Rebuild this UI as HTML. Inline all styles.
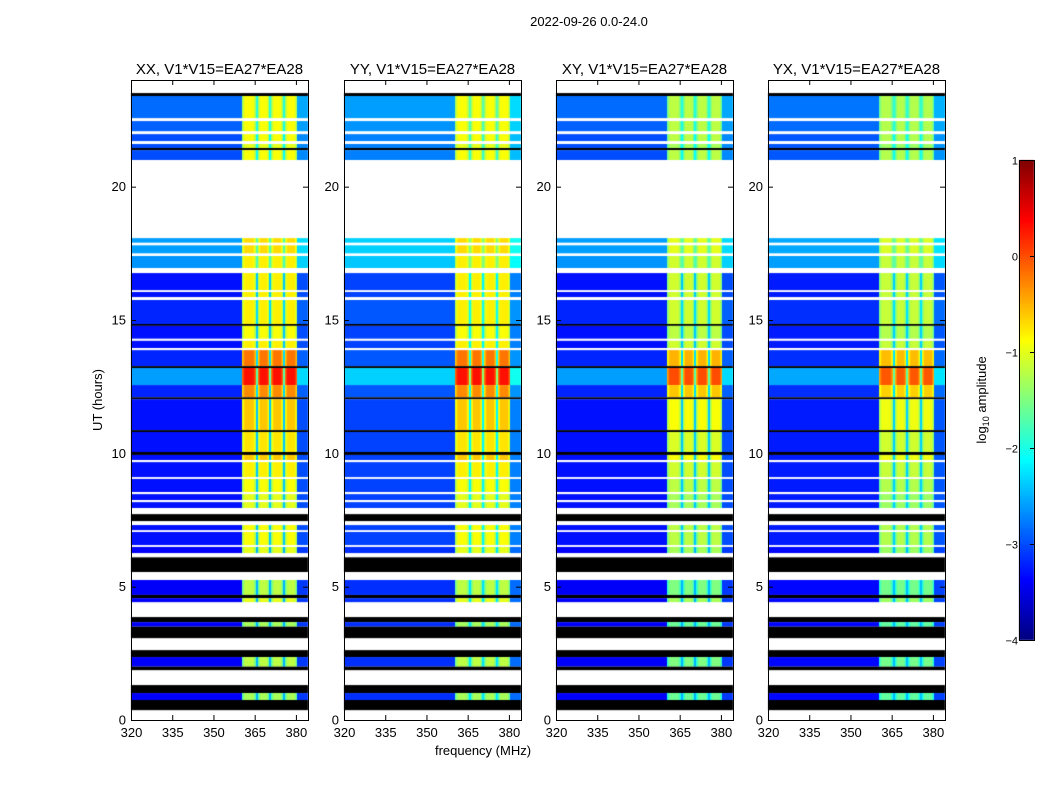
<!DOCTYPE html>
<html><head><meta charset="utf-8"><style>
body{margin:0;background:#fff;font-family:"Liberation Sans",sans-serif;}
#wrap{position:relative;width:1050px;height:800px;overflow:hidden;background:#fff;}
canvas{position:absolute;}
.t{position:absolute;white-space:nowrap;color:#000;}
</style></head><body>
<div id="wrap">
<div class="t" style="left:489px;top:14px;width:200px;text-align:center;font-size:13px;">2022-09-26 0.0-24.0</div>
<canvas id="c0" width="1050" height="800" style="left:0;top:0"></canvas>
<svg id="ov" width="1050" height="800" style="position:absolute;left:0;top:0"></svg>
</div>
<script>
// time segments: [startHour, endHour, kind, background log-amp, band log-amp]
const timeSegs = [
[23.51,24,'w'],[23.4,23.51,'k'],[22.57,23.4,'d',-2.85,-0.9],[22.46,22.57,'w'],
[22.08,22.46,'d',-2.9,-0.9],[21.97,22.08,'w'],[21.71,21.97,'d',-3.0,-0.9],[21.6,21.71,'w'],
[21.45,21.6,'d',-3.0,-1.0],[21.37,21.45,'k'],[21.0,21.37,'d',-3.0,-0.9],[18.07,21.0,'w'],
[17.9,18.07,'d',-2.6,-0.7],[17.8,17.9,'w'],[17.5,17.8,'d',-2.6,-0.7],[17.4,17.5,'w'],
[16.95,17.4,'d',-2.65,-0.8],[16.76,16.95,'w'],[16.12,16.76,'d',-3.3,-0.8],[16.05,16.12,'w'],
[15.86,16.05,'d',-3.3,-0.8],[15.75,15.86,'w'],[14.85,15.75,'d',-3.2,-0.8],[14.78,14.85,'k'],
[14.3,14.78,'d',-3.3,-0.9],[14.22,14.3,'w'],[13.95,14.22,'d',-3.3,-0.8],[13.87,13.95,'w'],
[13.27,13.87,'d',-3.2,-0.2],[13.2,13.27,'k'],[12.56,13.2,'d',-2.6,0.3],[12.1,12.56,'d',-3.2,-0.3],
[12.03,12.1,'k'],[10.87,12.03,'d',-3.3,-0.6],[10.8,10.87,'k'],[10.05,10.8,'d',-3.3,-0.75],
[9.94,10.05,'k'],[9.75,9.94,'d',-3.3,-0.6],[9.67,9.75,'w'],[9.11,9.67,'d',-3.3,-0.8],
[9.04,9.11,'w'],[8.55,9.04,'d',-3.3,-0.9],[8.47,8.55,'w'],[8.25,8.47,'d',-3.3,-1.0],
[8.17,8.25,'w'],[7.95,8.17,'d',-3.3,-1.0],[7.72,7.95,'w'],[7.46,7.72,'k'],[7.31,7.46,'w'],
[7.12,7.31,'d',-3.3,-0.9],[7.05,7.12,'w'],[6.56,7.05,'d',-3.3,-0.9],[6.49,6.56,'w'],
[6.26,6.49,'d',-3.4,-1.0],[6.1,6.26,'w'],[5.55,6.1,'k'],[5.25,5.55,'w'],
[4.69,5.25,'d',-3.4,-1.2],[4.57,4.69,'k'],[4.42,4.57,'d',-3.4,-1.0],[3.86,4.42,'w'],
[3.67,3.86,'k'],[3.5,3.67,'d',-3.4,-1.3],[3.07,3.5,'k'],[2.62,3.07,'w'],[2.36,2.62,'k'],
[2.0,2.36,'d',-3.4,-1.2],[1.87,2.0,'k'],[1.31,1.87,'w'],[1.01,1.31,'k'],
[0.75,1.01,'d',-3.4,-1.3],[0.37,0.75,'k'],[0,0.37,'w']
];
// bright sub-bands (MHz)
const subBands = [[360.4,365.5],[366.3,370.3],[371.1,375.3],[376.1,380.4]];
const bandEdge = 380.4;
const pols = ['XX','YY','XY','YX'];
const polBgOffset = [0, 0.25, 0, 0.05];
const polBandOffset = [0, 0, -0.3, -0.35];
const xTicks = [320,335,350,365,380];
const yTicks = [0,5,10,15,20];
const cbTicks = [1,0,-1,-2,-3,-4];

const panelLefts=[131,344,556,768], PW=177, PT=80, PB=720;
const FMIN=320, FMAX=384.4, HMIN=0, HMAX=24, VMIN=-4, VMAX=1;
const xs=(f,p)=>panelLefts[p]+(f-FMIN)/(FMAX-FMIN)*PW;
const ys=h=>PB-(h-HMIN)/(HMAX-HMIN)*(PB-PT);
function jet(v){let t=Math.max(0,Math.min(1,(v-VMIN)/(VMAX-VMIN)));
 const c=x=>Math.round(255*Math.max(0,Math.min(1,1.5-Math.abs(x))));
 return `rgb(${c(4*t-3)},${c(4*t-2)},${c(4*t-1)})`;}
function chanVal(f,bg,band){
 for(const [a,b] of subBands){ if(f>=a&&f<=b){const m=(f-a)/(b-a);const e=Math.min(m,1-m);return band-(e<0.2?0.5*(0.2-e)/0.2:0);} }
 if(f>=subBands[0][0]&&f<=bandEdge) return bg+0.9;
 if(f>bandEdge) return bg+0.3;
 return bg;
}
const ctx=document.getElementById('c0').getContext('2d');
pols.forEach((p,pi)=>{
 timeSegs.forEach(s=>{
  const y0=ys(s[1]),y1=ys(s[0]);
  if(s[2]==='w') return;
  if(s[2]==='k'){ctx.fillStyle='#000';ctx.fillRect(panelLefts[pi],y0,PW,y1-y0);return;}
  for(let px=0;px<PW;px++){
   const f=FMIN+(px+0.5)/PW*(FMAX-FMIN);
   ctx.fillStyle=jet(chanVal(f,s[3]+polBgOffset[pi],s[4]+polBandOffset[pi]));
   ctx.fillRect(panelLefts[pi]+px,y0,1,y1-y0);
  }
 });
});
// colorbar
const CBX=1019,CBW=15,CBT=160,CBB=640;
for(let y=CBT;y<CBB;y++){ctx.fillStyle=jet(VMAX-(y-CBT+0.5)/(CBB-CBT)*(VMAX-VMIN));ctx.fillRect(CBX,y,CBW,1);}
const ov=document.getElementById('ov');let h='';
pols.forEach((p,pi)=>{
 const L=panelLefts[pi];
 h+=`<rect x="${L+0.5}" y="${PT+0.5}" width="${PW}" height="${PB-PT}" fill="none" stroke="#000" stroke-width="1"/>`;
 h+=`<text x="${L+PW/2}" y="74" text-anchor="middle" font-size="15" font-family="Liberation Sans">${p}, V1*V15=EA27*EA28</text>`;
 xTicks.forEach(t=>{const x=xs(t,pi)+0.5;
  h+=`<line x1="${x}" x2="${x}" y1="${PB}" y2="${PB-5}" stroke="#000"/><line x1="${x}" x2="${x}" y1="${PT}" y2="${PT+5}" stroke="#000"/>`;
  h+=`<text x="${x}" y="737" text-anchor="middle" font-size="13" font-family="Liberation Sans">${t}</text>`;});
 yTicks.forEach(t=>{const y=ys(t)+0.5;
  h+=`<line x1="${L}" x2="${L+5}" y1="${y}" y2="${y}" stroke="#000"/><line x1="${L+PW}" x2="${L+PW-5}" y1="${y}" y2="${y}" stroke="#000"/>`;
  h+=`<text x="${L-5}" y="${y+4}" text-anchor="end" font-size="13" font-family="Liberation Sans">${t}</text>`;});
});
h+=`<text x="483" y="755" text-anchor="middle" font-size="13" font-family="Liberation Sans">frequency (MHz)</text>`;
h+=`<text transform="translate(102,400) rotate(-90)" text-anchor="middle" font-size="13" font-family="Liberation Sans">UT (hours)</text>`;
h+=`<rect x="${CBX+0.5}" y="${CBT+0.5}" width="${CBW}" height="${CBB-CBT}" fill="none" stroke="#000"/>`;
cbTicks.forEach(t=>{const y=CBT+(VMAX-t)/(VMAX-VMIN)*(CBB-CBT)+0.5;
 h+=`<line x1="${CBX+CBW-4}" x2="${CBX+CBW}" y1="${y}" y2="${y}" stroke="#000"/>`;
 h+=`<text x="${CBX+CBW-2}" y="${y+4}" text-anchor="end" font-size="11" font-family="Liberation Sans" transform="translate(-14,0)">${t<0?'\u2212'+(-t):t}</text>`;});
h+=`<text transform="translate(986,400) rotate(-90)" text-anchor="middle" font-size="13" font-family="Liberation Sans">log<tspan font-size="9" dy="3">10</tspan><tspan dy="-3"> amplitude</tspan></text>`;
ov.innerHTML=h;
</script>
</body></html>
